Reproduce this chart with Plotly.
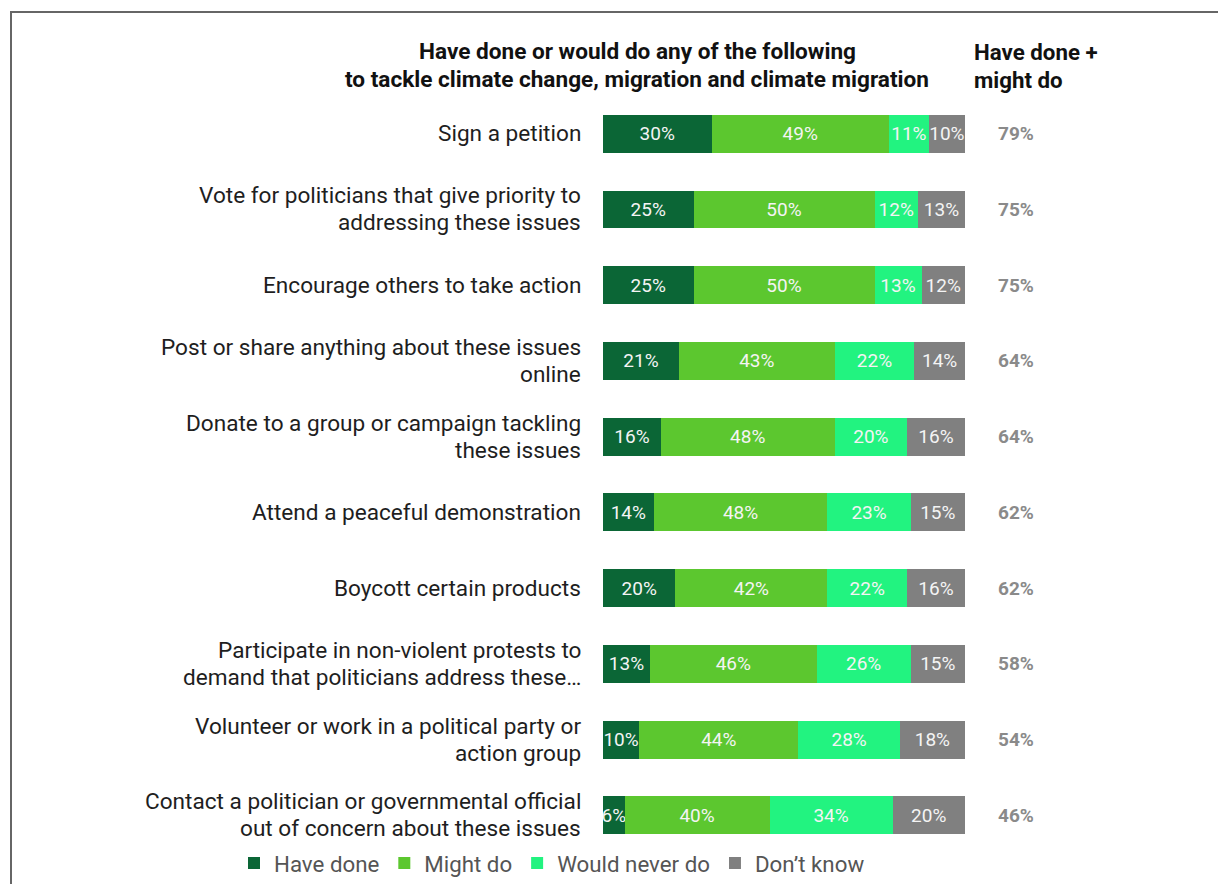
import plotly.graph_objects as go

categories = [
    "Sign a petition",
    "Vote for politicians that give priority to<br>addressing these issues",
    "Encourage others to take action",
    "Post or share anything about these issues<br>online",
    "Donate to a group or campaign tackling<br>these issues",
    "Attend a peaceful demonstration",
    "Boycott certain products",
    "Participate in non-violent protests to<br>demand that politicians address these…",
    "Volunteer or work in a political party or<br>action group",
    "Contact a politician or governmental official<br>out of concern about these issues",
]
have_done = [30, 25, 25, 21, 16, 14, 20, 13, 10, 6]
might_do = [49, 50, 50, 43, 48, 48, 42, 46, 44, 40]
never_do = [11, 12, 13, 22, 20, 23, 22, 26, 28, 34]
dont_know = [10, 13, 12, 14, 16, 15, 16, 15, 18, 20]
totals = [79, 75, 75, 64, 64, 62, 62, 58, 54, 46]

series = [
    ("Have done", have_done, "#0b6636"),
    ("Might do", might_do, "#5cc72f"),
    ("Would never do", never_do, "#22f380"),
    ("Don’t know", dont_know, "#808080"),
]

# page has an 8px body margin
OFF = 8
W, H = 1226 - OFF, 884 - OFF


def px(x):
    return (x - OFF) / W


def py(y):
    return 1 - (y - OFF) / H


ids = list(range(len(categories)))

fig = go.Figure()
for name, vals, color in series:
    fig.add_trace(go.Bar(
        y=ids, x=vals, name=name, orientation="h",
        marker=dict(color=color, line=dict(width=0)),
        text=[f"{v}%" for v in vals], textposition="inside", textangle=0,
        insidetextanchor="middle", constraintext="none",
        textfont=dict(family="Roboto", size=19, color="#f4f4f4"),
        hoverinfo="skip",
    ))

LABEL_SIZE = 22.6
LINE_GAP = 27
annotations = []
for i, c in enumerate(categories):
    lines = c.split("<br>")
    n = len(lines)
    for k, ln in enumerate(lines):
        annotations.append(dict(
            x=px(583), xref="paper", y=i, yref="y", text=ln, showarrow=False,
            xanchor="right", yanchor="middle", align="right",
            yshift=-(k - (n - 1) / 2) * LINE_GAP,
            font=dict(family="Roboto", size=LABEL_SIZE, color="#1e1e1e"),
        ))
    annotations.append(dict(
        x=px(1016), xref="paper", y=i, yref="y", text=f"<b>{totals[i]}%</b>",
        showarrow=False, xanchor="center", yanchor="middle",
        font=dict(family="Roboto", size=19, color="#8a8a8a"),
    ))

header_main = ["Have done or would do any of the following",
               "to tackle climate change, migration and climate migration"]
header_right = ["Have done +", "might do"]
for k, ln in enumerate(header_main):
    annotations.append(dict(
        x=px(637), xref="paper", y=py(52 + 28 * k), yref="paper",
        text=f"<b>{ln}</b>", showarrow=False, xanchor="center", yanchor="middle",
        font=dict(family="Roboto", size=22.6, color="#111111"),
    ))
for k, ln in enumerate(header_right):
    annotations.append(dict(
        x=px(972), xref="paper", y=py(52 + 28 * k), yref="paper",
        text=f"<b>{ln}</b>", showarrow=False, xanchor="left", yanchor="middle",
        font=dict(family="Roboto", size=22.3, color="#111111"),
    ))

fig.update_layout(
    width=W, height=H,
    margin=dict(l=0, r=0, t=0, b=0),
    barmode="stack", bargap=0.5,
    paper_bgcolor="white", plot_bgcolor="white",
    uniformtext=dict(minsize=19, mode="show"),
    xaxis=dict(domain=[px(603), px(965)], range=[0, 100], visible=False, fixedrange=True),
    yaxis=dict(domain=[py(859), py(96.5)], range=[len(categories) - 0.5, -0.5],
               visible=False, fixedrange=True),
    showlegend=True,
    legend=dict(orientation="h", x=px(552), xanchor="center", y=py(869), yanchor="middle",
                font=dict(family="Roboto", size=22.3, color="#555555"),
                traceorder="normal", itemclick=False, itemdoubleclick=False,
                bgcolor="rgba(0,0,0,0)"),
    annotations=annotations,
    shapes=[dict(type="rect", xref="paper", yref="paper",
                 x0=px(11), x1=1.05, y0=-0.05, y1=py(12),
                 line=dict(color="#666666", width=2))],
)

fig.write_html("out.html")
